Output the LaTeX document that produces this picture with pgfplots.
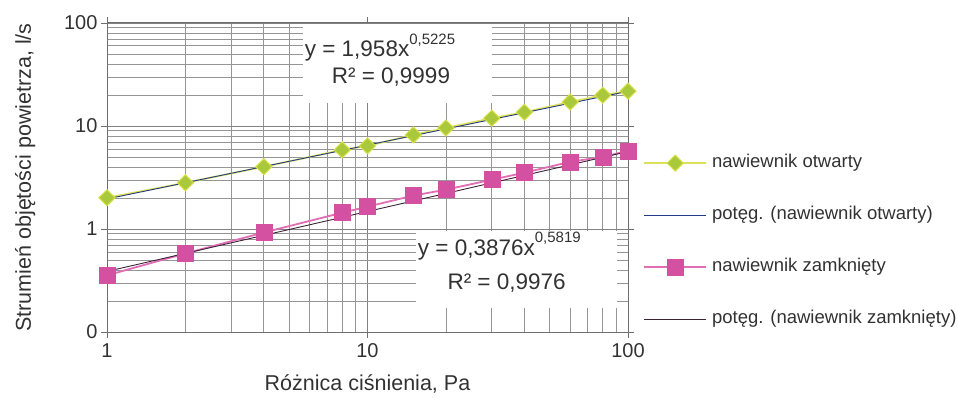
\documentclass[border=0pt]{standalone}
\usepackage{pgfplots}
\pgfplotsset{compat=1.18}
\usepackage{fontspec}
\setmainfont{Liberation Sans}
\definecolor{gridc}{RGB}{130,130,130}
\definecolor{framec}{RGB}{110,110,110}
\definecolor{ylin}{RGB}{222,224,90}
\definecolor{gfill}{RGB}{170,200,60}
\definecolor{gedge}{RGB}{215,225,70}
\definecolor{pfill}{RGB}{212,80,160}
\definecolor{plin}{RGB}{225,110,180}
\definecolor{fitA}{RGB}{35,60,135}
\definecolor{fitB}{RGB}{60,35,55}
\definecolor{txt}{RGB}{50,50,50}
\newcommand{\eqfont}{\fontsize{22.5}{27}\selectfont}
\newcommand{\supfont}{\fontsize{15}{18}\selectfont}
\begin{document}
\begin{tikzpicture}
\useasboundingbox (0,0) rectangle (958pt,397pt);
\begin{axis}[
  at={(107pt,65pt)}, anchor=south west,
  scale only axis, width=521pt, height=309pt,
  xmode=log, ymode=log,
  xmin=1, xmax=100, ymin=0.1, ymax=100,
  xtick={1,10,100}, xticklabels={1,10,100},
  ytick={0.1,1,10,100}, yticklabels={0,1,10,100},
  minor xtick={2,3,4,5,6,7,8,9,20,30,40,50,60,70,80,90},
  minor ytick={0.2,0.3,0.4,0.5,0.6,0.7,0.8,0.9,2,3,4,5,6,7,8,9,20,30,40,50,60,70,80,90},
  grid=both,
  major grid style={gridc, line width=0.9pt},
  minor grid style={gridc!85, line width=0.7pt},
  axis line style={framec, line width=1pt},
  tick style={framec, line width=0.9pt},
  tick align=outside, major tick length=6pt, minor tick length=0pt,
  /pgf/number format/assume math mode=true,
  ticklabel style={font=\fontsize{20}{24}\selectfont, text=txt},
  xticklabel style={yshift=-2pt},
  label style={font=\fontsize{21.5}{26}\selectfont, text=txt},
  xlabel={Różnica ciśnienia, Pa},
  ylabel={Strumień objętości powietrza, l/s},
  xlabel style={at={(axis description cs:0.5,-0.19)}, anchor=base},
  ylabel style={at={(axis description cs:-0.146,0.5)}, anchor=base},
  legend cell align=left,
  legend style={at={(1.029,0.578)}, anchor=north west, draw=none, fill=none,
    font=\fontsize{18.5}{22}\selectfont, text=txt,
    inner sep=0pt, row sep=33pt, column sep=5pt,
    nodes={inner sep=0pt, text height=14pt, text depth=5pt}},
  legend image code/.code={\draw[mark repeat=2,mark phase=2,#1] plot coordinates {(0pt,0pt) (31pt,0pt) (62pt,0pt)};},
]
\addplot[color=ylin, line width=1.8pt, mark=diamond*, mark size=8pt,
  mark options={xscale=1.35, fill=gfill, draw=gedge, line width=1pt}] coordinates {
  (1,2.01) (2,2.81) (4,4.02) (8,5.86) (10,6.41) (15,8.19) (20,9.57)
  (30,11.9) (40,13.6) (60,17.1) (80,19.9) (100,21.8)};
\addlegendentry{nawiewnik otwarty}
\addplot[color=fitA, line width=0.9pt, mark=none] coordinates {(1,1.958) (100,21.72)};
\addlegendentry{potęg. (nawiewnik otwarty)}
\addplot[color=plin, line width=1.8pt, mark=square*, mark size=8pt,
  mark options={fill=pfill, draw=pfill, line width=0.5pt}] coordinates {
  (1,0.355) (2,0.579) (4,0.925) (8,1.44) (10,1.65) (15,2.11) (20,2.41)
  (30,3.01) (40,3.52) (60,4.49) (80,5.01) (100,5.73)};
\addlegendentry{nawiewnik zamknięty}
\addplot[color=fitB, line width=0.9pt, mark=none] coordinates {(1,0.3876) (100,5.65)};
\addlegendentry{potęg. (nawiewnik zamknięty)}
\fill[white] (rel axis cs:0.376,0.741) rectangle (rel axis cs:0.739,0.996);
\fill[white] (rel axis cs:0.593,0.078) rectangle (rel axis cs:0.979,0.327);
\node[anchor=base, font=\eqfont, text=txt] at (rel axis cs:0.524,0.89) {y = 1,958x\raisebox{0.55em}{\supfont 0,5225}};
\node[anchor=base, font=\eqfont, text=txt] at (rel axis cs:0.545,0.803) {R² = 0,9999};
\node[anchor=base, font=\eqfont, text=txt] at (rel axis cs:0.753,0.249) {y = 0,3876x\raisebox{0.55em}{\supfont 0,5819}};
\node[anchor=base, font=\eqfont, text=txt] at (rel axis cs:0.767,0.136) {R² = 0,9976};
\end{axis}
\end{tikzpicture}
\end{document}
